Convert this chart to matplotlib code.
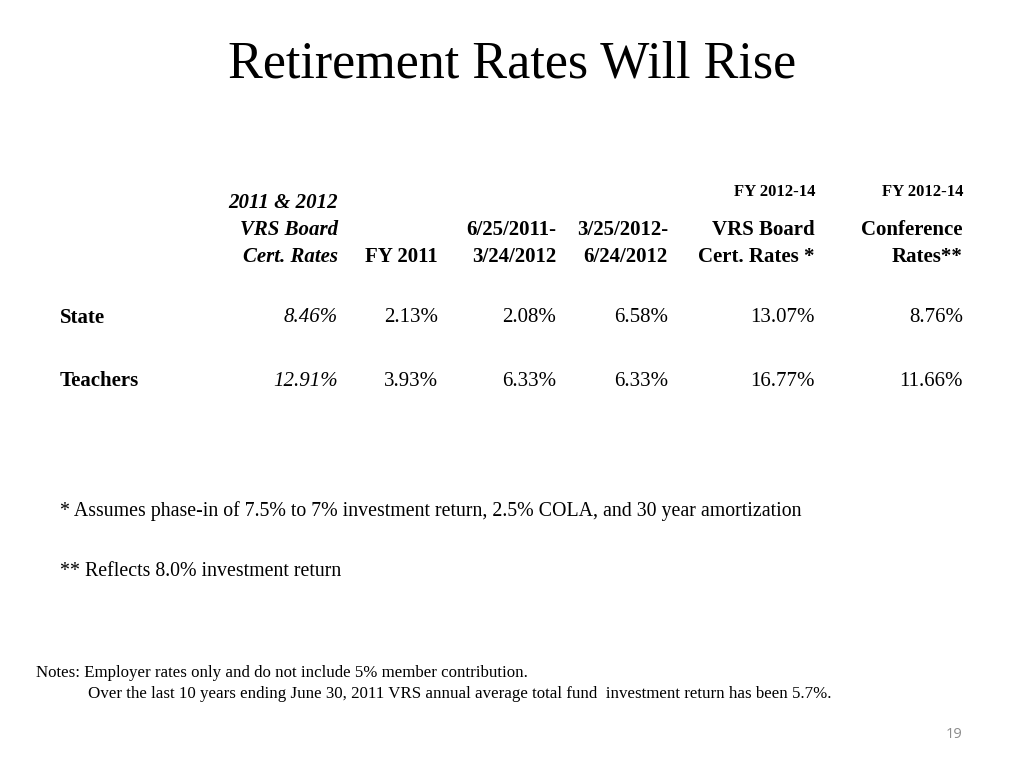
import matplotlib

matplotlib.use("Agg")
import matplotlib.pyplot as plt

title = "Retirement Rates Will Rise"
row_labels = ["State", "Teachers"]
column_headers = [
    ["2011 & 2012", "VRS Board", "Cert. Rates"],
    ["", "", "FY 2011"],
    ["", "6/25/2011-", "3/24/2012"],
    ["", "3/25/2012-", "6/24/2012"],
    ["FY 2012-14", "VRS Board", "Cert. Rates *"],
    ["FY 2012-14", "Conference", "Rates**"],
]
state_rates = ["8.46%", "2.13%", "2.08%", "6.58%", "13.07%", "8.76%"]
teacher_rates = ["12.91%", "3.93%", "6.33%", "6.33%", "16.77%", "11.66%"]
footnotes = [
    "* Assumes phase-in of 7.5% to 7% investment return, 2.5% COLA, and 30 year amortization",
    "** Reflects 8.0% investment return",
]
notes = [
    "Notes: Employer rates only and do not include 5% member contribution.",
    "Over the last 10 years ending June 30, 2011 VRS annual average total fund  investment return has been 5.7%.",
]
page_number = "19"

W, H = 1024, 768
fig = plt.figure(figsize=(W / 100, H / 100), dpi=100)
serif = "Liberation Serif"


def put(x, y, s, **kw):
    kw.setdefault("family", serif)
    kw.setdefault("va", "center")
    fig.text(x / W, 1 - y / H, s, **kw)


put(512, 65, title, size=37.5, ha="center")

col_x = [338, 438, 556, 668, 815, 963]
header_y = [203, 230, 257]
for ci, (x, lines) in enumerate(zip(col_x, column_headers)):
    for li, text in enumerate(lines):
        if not text:
            continue
        y = header_y[li]
        size = 15
        if ci >= 4 and li == 0:
            y, size = 192, 12
        style = "italic" if ci == 0 else "normal"
        put(x, y, text, size=size, ha="right", weight="bold", style=style)

for y, label, vals in [(318, row_labels[0], state_rates), (381, row_labels[1], teacher_rates)]:
    put(60, y, label, size=15, ha="left", weight="bold")
    for ci, (x, v) in enumerate(zip(col_x, vals)):
        put(x, y, v, size=15, ha="right", style="italic" if ci == 0 else "normal")

put(60, 511, footnotes[0], size=14.3, ha="left")
put(60, 571, footnotes[1], size=14.3, ha="left")
put(36, 673, notes[0], size=12.2, ha="left")
put(88, 694, notes[1], size=12.2, ha="left")
put(954, 734, page_number, size=10.5, ha="center", family="Open Sans", color="#8c8c8c")

fig.savefig("out.png", dpi=100, facecolor="white")
